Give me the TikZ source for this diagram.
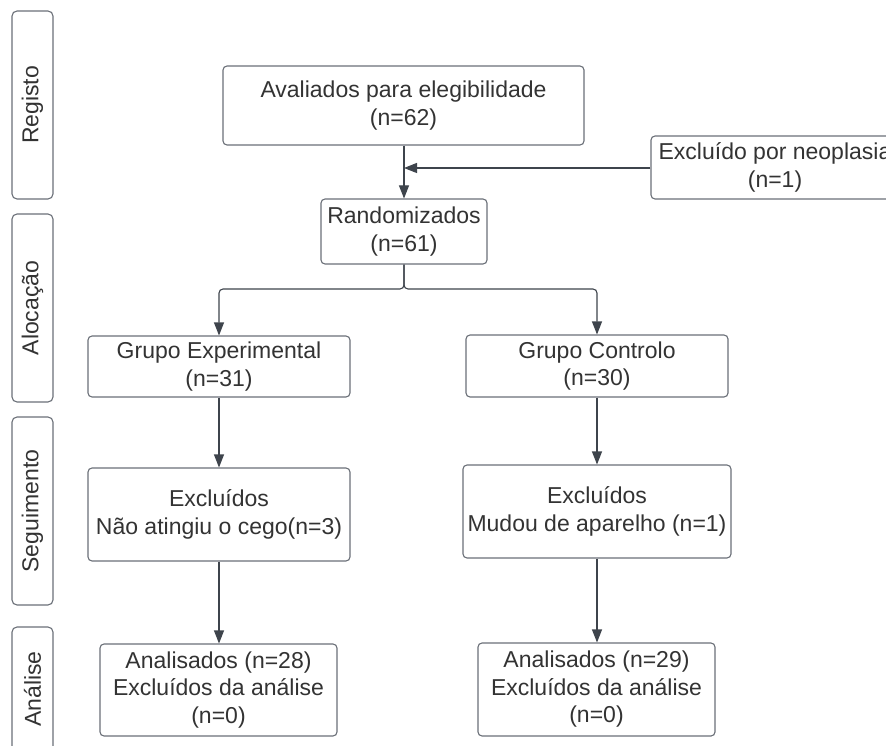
\documentclass[tikz,border=0pt]{standalone}
\usepackage{fontspec}
\setmainfont{Liberation Sans}
\usetikzlibrary{arrows.meta}
\definecolor{boxline}{HTML}{6B7078}
\definecolor{arrowc}{HTML}{3E444C}
\definecolor{txt}{HTML}{333333}
\tikzset{
  box/.style={draw=boxline, line width=1.1pt, rounded corners=4pt, fill=white,
    inner sep=0pt, align=center, text=txt, font=\fontsize{23}{27.5}\selectfont},
  lane/.style={draw=boxline, line width=1.1pt, rounded corners=5pt},
  lanetext/.style={rotate=90, text=txt, font=\fontsize{23}{27}\selectfont},
  conn/.style={draw=arrowc, line width=1.1pt, -{Triangle[length=13pt,width=10pt]}},
}
\begin{document}
\begin{tikzpicture}[x=1pt,y=-1pt]
\useasboundingbox (0,0) rectangle (886,746);
\clip (0,0) rectangle (886,746);
\fill[white] (0,0) rectangle (886,746);

% lanes
\draw[lane] (12,11) rectangle (53,199);
\node[lanetext] (l1) at (32.5,105) {Registo};
\draw[lane] (12,214) rectangle (53,402);
\node[lanetext] (l2) at (32.5,308) {Alocação};
\draw[lane] (12,417) rectangle (53,605);
\node[lanetext] (l3) at (32.5,511) {Seguimento};
\draw[lane] (12,627) rectangle (53,815);
\node[lanetext] (l4) at (32.5,689) {Análise};

% boxes
\node[box, minimum width=361pt, minimum height=79pt] (av) at (403.5,105.5) {Avaliados para elegibilidade\\(n=62)};
\node[box, minimum width=248pt, minimum height=63pt] (ex) at (775,167.5) {Excluído por neoplasia\\(n=1)};
\node[box, minimum width=166pt, minimum height=65pt] (ra) at (404,231.5) {Randomizados\\(n=61)};
\node[box, minimum width=262pt, minimum height=61pt] (ge) at (219,366.5) {Grupo Experimental\\(n=31)};
\node[box, minimum width=262pt, minimum height=62pt] (gc) at (597,366) {Grupo Controlo\\(n=30)};
\node[box, minimum width=262pt, minimum height=93pt] (ee) at (219,514.5) {Excluídos\\Não atingiu o cego(n=3)};
\node[box, minimum width=268pt, minimum height=93pt] (ec) at (597,511.5) {Excluídos\\Mudou de aparelho (n=1)};
\node[box, minimum width=237pt, minimum height=92pt] (ae) at (218.5,690) {Analisados (n=28)\\Excluídos da análise\\(n=0)};
\node[box, minimum width=237pt, minimum height=93pt] (ac) at (596.5,689.5) {Analisados (n=29)\\Excluídos da análise\\(n=0)};

% connectors
\coordinate (mj) at (404,168);
\draw[conn] (av.south -| ra.north) -- (ra.north);
\draw[conn] (ex.west |- mj) -- (mj);
\coordinate (br) at (404,289);
\draw[conn, rounded corners=4pt] (ra.south) -- (br) -| (ge.north);
\draw[conn, rounded corners=4pt] (ra.south) -- (br) -| (gc.north);
\draw[conn] (ge.south) -- (ee.north);
\draw[conn] (gc.south) -- (ec.north);
\draw[conn] (ee.south) -- (ae.north -| ee.south);
\draw[conn] (ec.south) -- (ac.north -| ec.south);
\end{tikzpicture}
\end{document}
